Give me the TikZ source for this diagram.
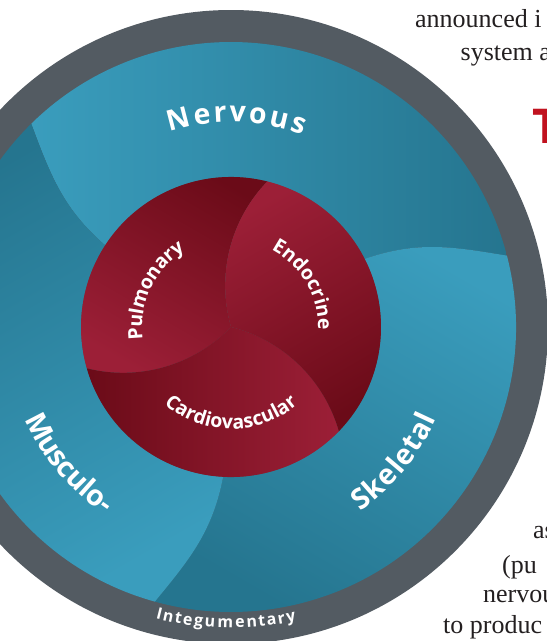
\documentclass[tikz,border=0pt]{standalone}
\usepackage{fontspec}
\setmainfont{Liberation Serif}
\newfontfamily\sysfont{Open Sans}
\usetikzlibrary{decorations.text}

\definecolor{ringgray}{HTML}{535B62}
\definecolor{bluelight}{HTML}{3A9DBD}
\definecolor{bluedark}{HTML}{25758F}
\definecolor{redlight}{HTML}{9C1F37}
\definecolor{reddark}{HTML}{6B0B18}
\definecolor{inkgray}{HTML}{231F20}
\definecolor{titlered}{HTML}{C1121F}

\newcommand\bigsysfont{\sysfont\bfseries\fontsize{28.5}{32}\selectfont}
\newcommand\coresysfont{\sysfont\bfseries\fontsize{19.5}{22}\selectfont}
\newcommand\skinsysfont{\sysfont\bfseries\fontsize{16}{18}\selectfont}

\tikzset{
  bigsys/.style={decorate, decoration={text effects along path,
      text={#1}, text effects/.cd, text along path, fit text to path,
      characters={text=white, font=\bigsysfont}, character widths={inner xsep=0pt, font=\bigsysfont}}},
  coresys/.style={decorate, decoration={text effects along path,
      text={#1}, text effects/.cd, text along path, fit text to path,
      characters={text=white, font=\coresysfont}, character widths={inner xsep=0pt, font=\coresysfont}}},
  skinsys/.style={decorate, decoration={text effects along path,
      text={#1}, text effects/.cd, text along path, fit text to path,
      characters={text=white, font=\skinsysfont}, character widths={inner xsep=0pt, font=\skinsysfont}}},
  pagetext/.style={anchor=base west, inner sep=0pt, text=inkgray, font=\fontsize{26}{31}\selectfont}
}

\begin{document}
\begin{tikzpicture}[x=1pt,y=1pt]
	\useasboundingbox (-231,-314) rectangle (316,327);
	\clip (-231,-314) rectangle (316,327);
	
	\fill[ringgray] (0,0) circle[radius=317pt];
	
	% outer swirl
	\foreach \k/\sa in {0/90,1/-30,2/210}{
		\pgfmathsetmacro\ai{147-120*\k}
		\pgfmathsetmacro\bo{134.5-120*\k}
		\shade[top color=bluelight, bottom color=bluedark, shading angle=\sa]
			(\ai:150) to[out=\ai-8, in=\bo+156] (\bo:285)
			arc[start angle=\bo, end angle=\bo-120, radius=285pt]
			to[out=\bo+36, in=\ai-128] (\ai-120:150)
			arc[start angle=\ai-120, end angle=\ai, radius=150pt] -- cycle;
	}
	
	% inner swirl
	\foreach \p/\sa in {76/150,196/-90,316/30}{
		\shade[top color=redlight, bottom color=reddark, shading angle=\sa]
			(0,0) arc[start angle=\p+120, end angle=\p+60, radius=150pt]
			arc[start angle=\p, end angle=\p+120, radius=150pt]
			arc[start angle=\p+180, end angle=\p+240, radius=150pt] -- cycle;
	}
	
	\path[bigsys=Nervous] (107.5:205) arc[start angle=107.5, end angle=69.5, radius=205pt];
	\path[bigsys=Skeletal] (-55:225) arc[start angle=-55, end angle=-24, radius=225pt];
	\path[bigsys=Musculo-] (204:226) arc[start angle=204, end angle=236, radius=226pt];
	\path[skinsys=Integumentary] (255.5:301) arc[start angle=255.5, end angle=282.5, radius=301pt];
	\path[coresys=Pulmonary] (188:89) arc[start angle=188, end angle=121, radius=89pt];
	\path[coresys=Endocrine] (62.5:87) arc[start angle=62.5, end angle=-2, radius=87pt];
	\path[coresys=Cardiovascular] (229:102) arc[start angle=229, end angle=311, radius=102pt];
	
	\node[pagetext] (announced) at (184,300) {announced i};
	\node[pagetext] (systema) at (229.5,267) {system a};
	\node[anchor=base west, inner sep=0pt, text=titlered, font=\sysfont\bfseries\fontsize{48}{50}\selectfont] (title) at (301,184) {T};
	\node[pagetext] (as) at (302,-211) {as};
	\node[pagetext] (pu) at (271,-246) {(pu};
	\node[pagetext] (nervou) at (252,-275) {nervou};
	\node[pagetext] (produc) at (212,-306) {to produc};
\end{tikzpicture}
\end{document}
